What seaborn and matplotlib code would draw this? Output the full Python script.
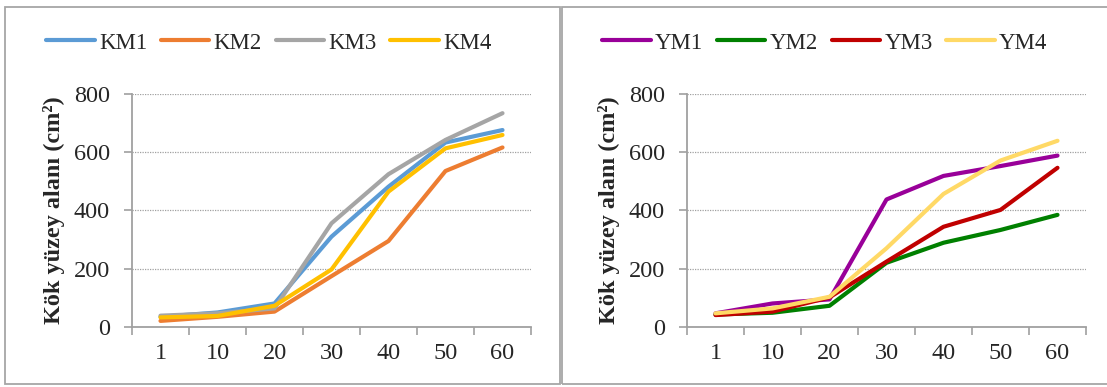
import numpy as np
import pandas as pd
import matplotlib
matplotlib.use("Agg")
import matplotlib.pyplot as plt
from matplotlib.patches import Rectangle
from matplotlib.ticker import FixedLocator, NullFormatter
import seaborn as sns

# Sampling days
days = ["1", "10", "20", "30", "40", "50", "60"]

# Root surface area (cm²), KM group
km1 = [34, 49, 80, 310, 482, 634, 677]
km2 = [20, 34, 52, 174, 295, 536, 617]
km3 = [38, 46, 63, 356, 525, 643, 735]
km4 = [32, 37, 72, 197, 465, 614, 660]

# Root surface area (cm²), YM group
ym1 = [46, 80, 94, 438, 519, 553, 589]
ym2 = [42, 48, 72, 220, 289, 333, 385]
ym3 = [40, 52, 101, 224, 344, 402, 547]
ym4 = [46, 63, 103, 270, 457, 572, 640]

km_names = ["KM1", "KM2", "KM3", "KM4"]
ym_names = ["YM1", "YM2", "YM3", "YM4"]
km_colors = ["#5B9BD5", "#ED7D31", "#A5A5A5", "#FFC000"]
ym_colors = ["#990099", "#008000", "#C00000", "#FFD966"]

y_label = "Kök yüzey alanı (cm²)"
FS = 17.5
LEG_FS = 16.5


def long_frame(names, series):
    rows = []
    for name, vals in zip(names, series):
        for d, v in zip(days, vals):
            rows.append({"Gün": d, "Alan": v, "Seri": name})
    return pd.DataFrame(rows)


sns.set_theme(style="white")
plt.rcParams["font.family"] = ["Liberation Serif", "DejaVu Serif"]

W, H = 1107, 387
fig = plt.figure(figsize=(W / 100, H / 100), dpi=100)

# Panel frames
frame_kw = dict(transform=fig.transFigure, fill=False, edgecolor="#A6A6A6", linewidth=1.3)
fig.patches.append(Rectangle((5 / W, (H - 384) / H), 555 / W, 377 / H, **frame_kw))
fig.patches.append(Rectangle((562 / W, (H - 384) / H), 560 / W, 377 / H, **frame_kw))

panels = [
    (132, km_names, [km1, km2, km3, km4], km_colors, 269),
    (687, ym_names, [ym1, ym2, ym3, ym4], ym_colors, 825),
]

for left_px, names, series, colors, legend_cx in panels:
    ax = fig.add_axes([left_px / W, (H - 326.7) / H, 399 / W, 232.4 / H])
    df = long_frame(names, series)
    sns.lineplot(data=df, x="Gün", y="Alan", hue="Seri", palette=colors,
                 linewidth=3.0, sort=False, ax=ax, legend=True)

    ax.set_xlim(-0.5, len(days) - 0.5)
    ax.set_ylim(0, 800)
    ax.set_yticks([0, 200, 400, 600, 800])
    ax.yaxis.grid(True, color="#A0A0A0", linestyle=(0, (1, 1)), linewidth=0.9)
    ax.xaxis.grid(False)
    ax.set_axisbelow(True)

    # Tick marks between categories, labels at category centres
    ax.xaxis.set_major_locator(FixedLocator(np.arange(-0.5, len(days), 1.0)))
    ax.xaxis.set_major_formatter(NullFormatter())
    ax.xaxis.set_minor_locator(FixedLocator(np.arange(len(days))))
    ax.set_xticklabels(days, minor=True)
    ax.tick_params(axis="x", which="major", length=6, width=1.2, color="#A0A0A0",
                   direction="out", bottom=True)
    ax.tick_params(axis="x", which="minor", length=0, pad=12, labelsize=FS)
    ax.tick_params(axis="y", length=6, width=1.2, color="#A0A0A0", direction="out",
                   left=True, pad=10, labelsize=FS)

    for side in ["top", "right"]:
        ax.spines[side].set_visible(False)
    for side in ["left", "bottom"]:
        ax.spines[side].set_color("#A0A0A0")
        ax.spines[side].set_linewidth(1.3)

    ax.set_xlabel("")
    ax.set_ylabel(y_label, fontsize=FS, fontweight="bold", labelpad=6)

    handles, labels = ax.get_legend_handles_labels()
    ax.legend(handles, labels, loc="center", ncol=4,
              bbox_to_anchor=(legend_cx / W, (H - 43) / H), bbox_transform=fig.transFigure,
              frameon=False, fontsize=LEG_FS, handlelength=2.1, handletextpad=0.2,
              columnspacing=0.6, borderaxespad=0)

fig.savefig("out.png", dpi=100)
